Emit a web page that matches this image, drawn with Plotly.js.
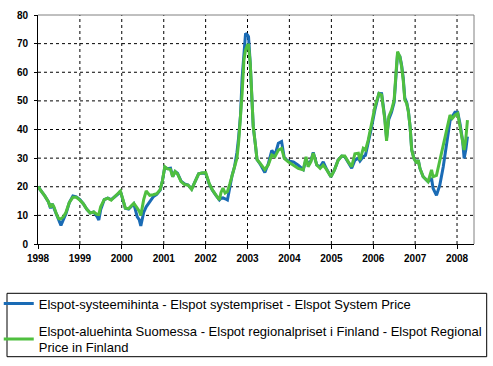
<!DOCTYPE html>
<html>
<head>
<meta charset="utf-8">
<script src="https://cdn.plot.ly/plotly-3.0.1.min.js"></script>
<style>
html,body{margin:0;padding:0;background:#fff;overflow:hidden;}
#chart{width:493px;height:366px;}
</style>
</head>
<body>
<div id="chart"></div>
<script>
var dates = [
"1998-01-01","1998-02-01","1998-03-01","1998-04-01","1998-04-20","1998-05-05","1998-05-20","1998-06-10","1998-07-01","1998-07-20","1998-08-10","1998-09-01","1998-10-01","1998-11-01","1998-12-01",
"1999-01-01","1999-02-01","1999-03-01","1999-04-01","1999-05-01","1999-06-01","1999-06-15","1999-07-01","1999-08-01","1999-09-01","1999-10-01","1999-11-01","1999-12-01","1999-12-20",
"2000-01-15","2000-02-01","2000-03-01","2000-04-01","2000-04-15","2000-05-15","2000-06-01","2000-06-15","2000-07-10","2000-08-01","2000-09-01","2000-10-01","2000-11-01","2000-12-01","2000-12-20",
"2001-01-10","2001-02-01","2001-03-01","2001-03-20","2001-04-10","2001-05-01","2001-06-01","2001-07-01","2001-08-01","2001-09-01","2001-10-01","2001-11-01","2001-12-01",
"2002-01-01","2002-02-01","2002-03-01","2002-04-01","2002-05-01","2002-05-15","2002-06-01","2002-06-20","2002-07-10","2002-08-01","2002-08-20","2002-09-10","2002-10-01","2002-10-15","2002-11-01","2002-11-15","2002-12-01","2002-12-15",
"2003-01-01","2003-01-10","2003-01-25","2003-02-05","2003-02-20","2003-03-10","2003-03-25","2003-04-20","2003-06-01","2003-07-01","2003-08-01","2003-08-28","2003-09-27","2003-10-25","2003-11-18","2003-12-22",
"2004-02-05","2004-03-18","2004-05-01","2004-05-25","2004-06-12","2004-07-06","2004-07-27","2004-08-27","2004-09-25","2004-10-22","2004-11-22","2004-12-28",
"2005-01-28","2005-03-01","2005-04-01","2005-04-28","2005-05-28","2005-06-27","2005-07-25","2005-08-24","2005-09-07","2005-10-06","2005-10-25","2005-11-18","2005-12-18",
"2006-01-16","2006-02-20","2006-03-15","2006-03-28","2006-04-12","2006-04-27","2006-05-16","2006-06-09","2006-07-02","2006-07-22","2006-08-01","2006-08-21","2006-09-05","2006-09-19","2006-10-03","2006-10-19","2006-11-03","2006-11-18","2006-12-02","2006-12-21",
"2007-01-15","2007-01-28","2007-02-12","2007-03-12","2007-04-24","2007-05-24","2007-06-06","2007-07-06","2007-08-04","2007-09-03","2007-10-03","2007-11-01","2007-11-21","2007-12-14",
"2008-01-07","2008-01-27","2008-02-19","2008-03-03","2008-03-18","2008-04-01"
];

// Elspot system price
var systemPrice = [
20,18.5,16.8,14.8,12.5,14,12.5,10.5,8.5,6.5,8.5,10.5,14.5,16.8,16.5,
15.5,14,12.2,10.8,11.2,9.5,8.4,12,15.5,16,15.5,16.5,17.5,18.5,
15,12.5,12.2,13.5,14,9.5,8.5,6.3,11,13,15,16.5,17.3,18.8,22,
26.8,26.3,26.5,23.5,25.3,24.7,22,21,20.6,19.2,21.8,24.5,24.8,
24.7,21,18.8,17,15.4,16,16.1,15.8,15.4,20,24,27,32,37,45,58,68,73.6,
73,72.4,63,51.5,41,35,29.5,28,25,28,32.7,31,35.2,35.8,30,29,
28.7,27.5,26,29.5,28,29,32,27.6,27,28.7,26,23.5,
25.9,29.3,30.7,30.5,28.5,26.5,29.3,30,29,30.5,31,35,41,
47,52.6,52.5,48.5,44,37,43.5,46,49.5,61,66.5,65.5,62.5,58,51,49.5,46.5,41,33,30,
28.2,29.3,26.4,23.5,21.8,23,19.5,17,20.6,27,35,43,44.5,46,
46,42,36,29.9,33,37.5
];

// Elspot regional price in Finland
var finlandPrice = [
20,18.5,16.8,14.8,12.8,14,13,10.5,8.8,8.8,9.5,11,14.5,16.3,16.3,
15.3,14,12.2,10.8,11.2,10.3,10.3,13,15.5,16,15.3,16.5,17.5,18.5,
15,12.5,12.4,13.8,14.2,12.5,11.5,10,15.5,18.5,17,17.2,17.6,19,22,
27,26.3,26,23.5,25.3,24.5,21.8,20.8,20.6,19.1,21.8,24.5,24.8,
25,21.2,18.9,17.1,15.4,18,19.5,17.8,18.3,21.2,24.1,27,30,35.2,43.3,52.6,64.3,67.8,
69.5,69.5,63,51,41,35,29.5,28.2,26,27.6,31.1,30.5,32.8,33.4,29.9,28.7,
27.6,26.4,25.9,30.5,27,28.7,31.7,27.6,26.4,27.6,25.9,23.5,
25.9,29.3,30.7,30.7,28.7,27,31.5,31.7,29.3,33.4,32.8,36.3,42.2,
48,52.6,52.1,48,43.3,36,44.5,46.8,50.3,61.9,67.2,65.4,62,57.3,50.3,49.2,46.2,41,32.8,29.9,
28.2,29.3,26.4,23.5,21.8,25.9,23.5,24,29.3,34,39.8,45,43.9,45,
45.6,41,36.3,32.8,36.9,43.3
];

var seriesNames = [
"Elspot-systeemihinta - Elspot systempriset - Elspot System Price",
"Elspot-aluehinta Suomessa - Elspot regionalpriset i Finland - Elspot Regional<br>Price in Finland"
];
var yearTicks = ["1998","1999","2000","2001","2002","2003","2004","2005","2006","2007","2008"];
var yTicks = [0,10,20,30,40,50,60,70,80];
var xRange = ["1998-01-01", "2008-05-28"];
var yRange = [0, 80];

var traces = [
  {x: dates, y: systemPrice, name: seriesNames[0], type: "scatter", mode: "lines",
   line: {color: "#1a6bb5", width: 3}, legendgroup: "a"},
  {x: dates, y: finlandPrice, name: seriesNames[1], type: "scatter", mode: "lines",
   line: {color: "#4fbf3f", width: 3}, legendgroup: "b"}
];

var tickFont = {family: "Liberation Sans, Arial, sans-serif", size: 10, color: "#000", weight: "bold"};

// Dotted grid built from short solid segments at the tick positions
var plotW = 493 - 38 - 19, plotH = 366 - 15 - 122;
function ms(s){ var p = s.split("-"); return Date.UTC(+p[0], +p[1] - 1, +p[2]); }
var t0 = ms(xRange[0]), t1 = ms(xRange[1]);
function dotted(horizontal, pos){
  var len = horizontal ? plotW : plotH;
  var on = 3 / len, period = 6 / len, d = "";
  for (var t = 0; t < 1; t += period) {
    var e = Math.min(t + on, 1);
    if (horizontal) d += "M" + t.toFixed(5) + "," + pos.toFixed(5) + "L" + e.toFixed(5) + "," + pos.toFixed(5);
    else d += "M" + pos.toFixed(5) + "," + t.toFixed(5) + "L" + pos.toFixed(5) + "," + e.toFixed(5);
  }
  return {type: "path", xref: "paper", yref: "paper", path: d,
          line: {color: "#000000", width: 1}, layer: "below"};
}
var gridShapes = [];
yearTicks.slice(1).forEach(function(y){
  gridShapes.push(dotted(false, (ms(y + "-01-01") - t0) / (t1 - t0)));
});
yTicks.slice(1, -1).forEach(function(v){
  gridShapes.push(dotted(true, (v - yRange[0]) / (yRange[1] - yRange[0])));
});

var layout = {
  width: 493, height: 366,
  margin: {l: 38, r: 19, t: 15, b: 122, pad: 0, autoexpand: false},
  paper_bgcolor: "#ffffff", plot_bgcolor: "rgba(0,0,0,0)",
  font: {family: "Liberation Sans, Arial, sans-serif", color: "#000", size: 12},
  showlegend: true,
  xaxis: {
    type: "date", range: xRange,
    tickvals: yearTicks.map(function(y){return y + "-01-01";}), ticktext: yearTicks,
    showgrid: false,
    showline: true, linecolor: "#000", linewidth: 1,
    ticks: "outside", ticklen: 4, tickcolor: "#000",
    tickfont: tickFont, ticklabelstandoff: 1, zeroline: false, fixedrange: true
  },
  yaxis: {
    range: yRange, tickvals: yTicks,
    showgrid: false,
    showline: true, linecolor: "#000", linewidth: 1,
    ticks: "outside", ticklen: 3, tickcolor: "#000",
    tickfont: tickFont, ticklabelstandoff: 4, zeroline: false, fixedrange: true
  },
  legend: {
    x: -0.09, y: -0.195, xanchor: "left", yanchor: "top",
    bgcolor: "rgba(0,0,0,0)", borderwidth: 0,
    font: {family: "Liberation Sans, Arial, sans-serif", size: 13, color: "#000"},
    tracegroupgap: 7
  },
  shapes: gridShapes.concat([
    {type: "line", xref: "paper", yref: "paper", x0: 0, x1: 1, y0: 1, y1: 1, line: {color: "#808080", width: 1}},
    {type: "line", xref: "paper", yref: "paper", x0: 1, x1: 1, y0: 0, y1: 1, line: {color: "#808080", width: 1}},
    {type: "rect", xref: "paper", yref: "paper", x0: -0.0711, x1: 1.0291, y0: -0.4921, y1: -0.2153,
     line: {color: "#000", width: 1}, fillcolor: "rgba(0,0,0,0)"}
  ])
};

Plotly.newPlot("chart", traces, layout, {displayModeBar: false, staticPlot: true});
</script>
</body>
</html>
